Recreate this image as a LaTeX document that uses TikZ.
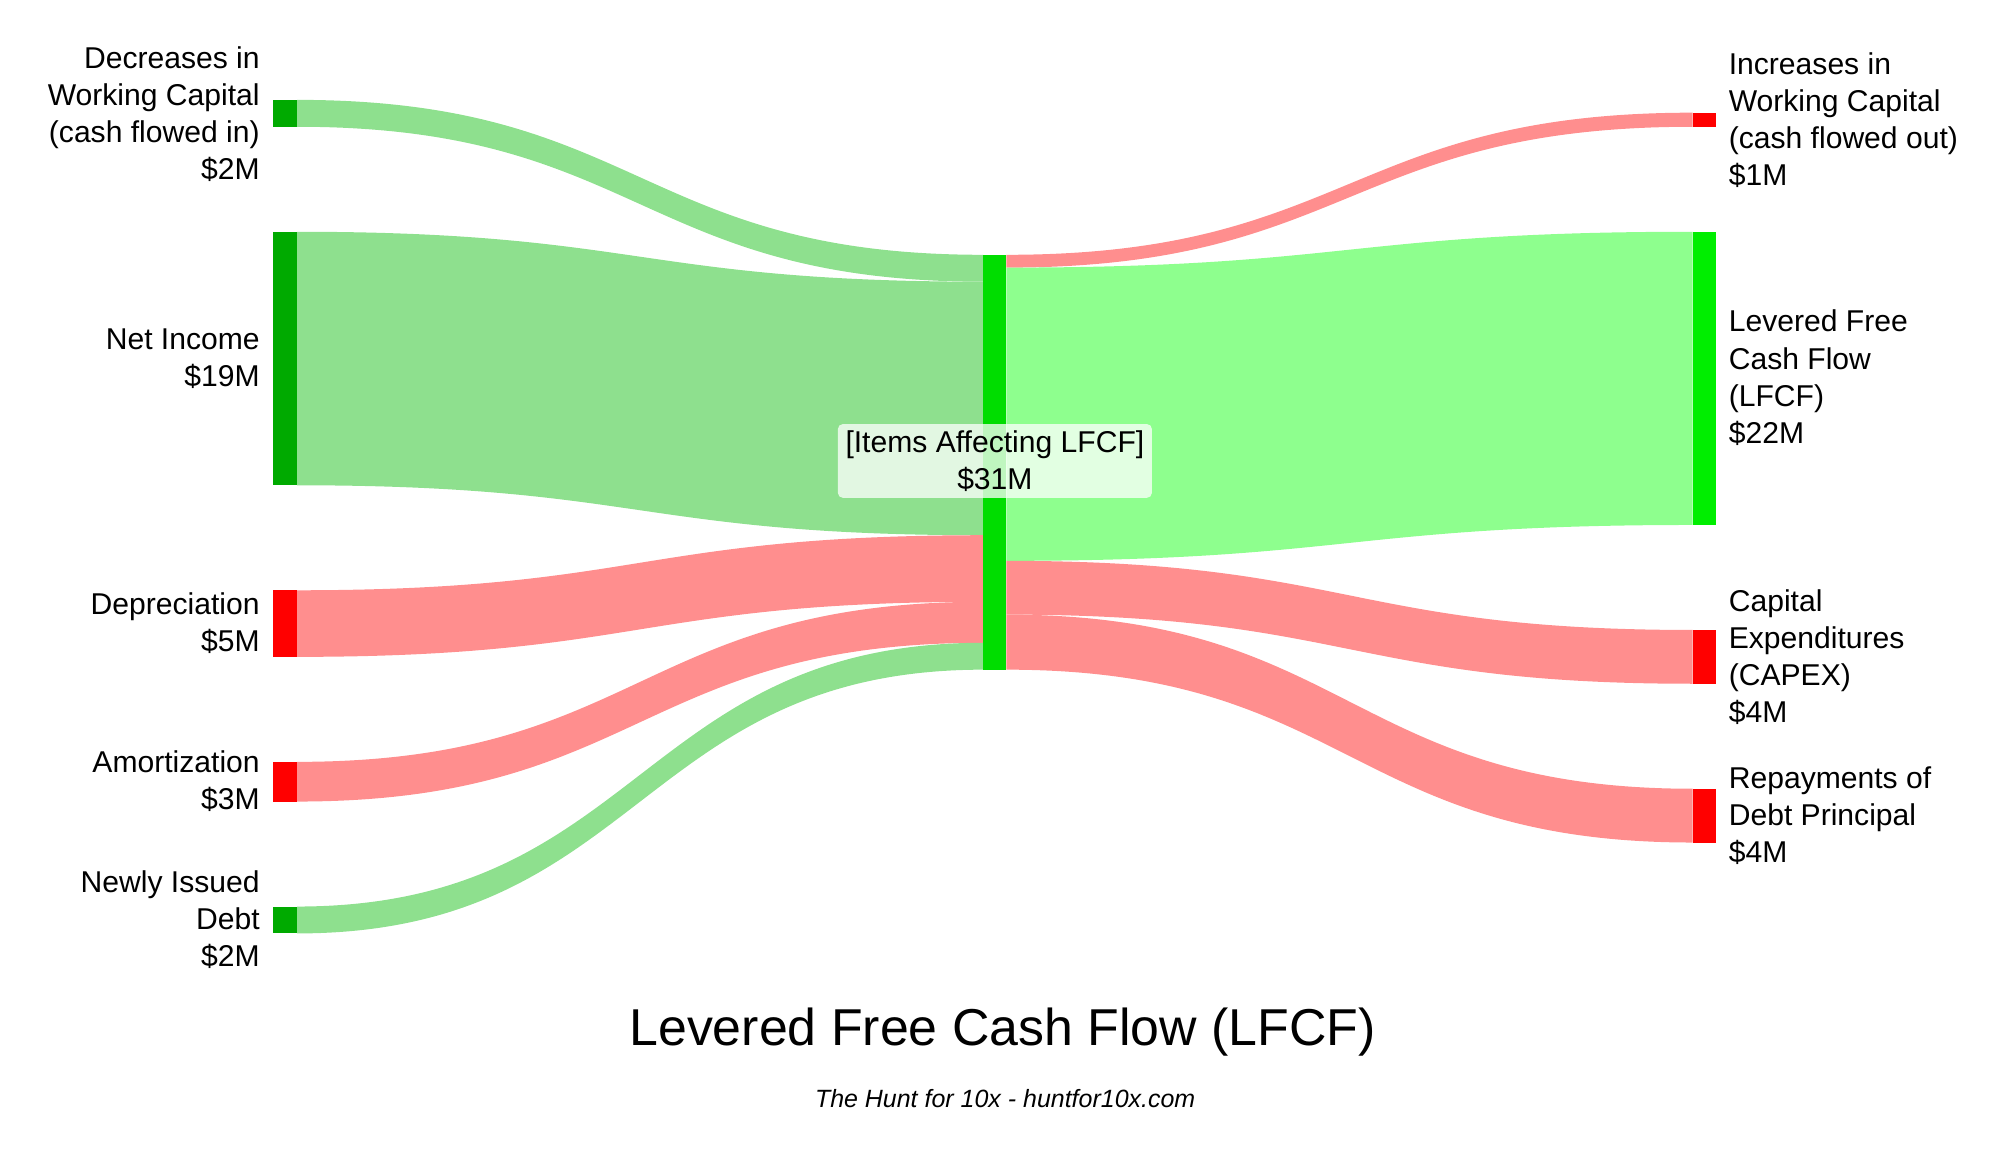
\documentclass[tikz,border=0pt]{standalone}
\usepackage{fontspec}
\setmainfont{Liberation Sans}
\begin{document}
\begin{tikzpicture}[x=1pt,y=-1pt,
  lbl/.style={font=\fontsize{23.5}{29}\selectfont,inner sep=0pt},
  llbl/.style={lbl,anchor=east,align=right},
  rlbl/.style={lbl,anchor=west,align=left}]
\definecolor{gflow}{HTML}{8EE08E}
\definecolor{lflow}{HTML}{8EFF8E}
\definecolor{rflow}{HTML}{FF8E8E}
\definecolor{gbar}{HTML}{00AA00}
\definecolor{mbar}{HTML}{00DD00}
\definecolor{lbar}{HTML}{00EE00}
\definecolor{rbar}{HTML}{FF0000}
\useasboundingbox (0,0) rectangle (1562,900);
\newcommand{\myflow}[7]{% color x1 a1 b1 x2 a2 b2
  \fill[#1] (#2,#3) .. controls ({(#2+#5)/2},#3) and ({(#2+#5)/2},#6) .. (#5,#6)
    -- (#5,#7) .. controls ({(#2+#5)/2},#7) and ({(#2+#5)/2},#4) .. (#2,#4) -- cycle;}
% flows
\myflow{gflow}{232}{78}{99}{768}{199}{220}
\myflow{gflow}{232}{181}{379}{768}{220}{418}
\myflow{rflow}{232}{461}{513}{768}{418}{470}
\myflow{rflow}{232}{595}{626}{768}{470}{502}
\myflow{gflow}{232}{708}{729}{768}{502}{523}
\myflow{rflow}{786}{199}{209}{1322}{88}{99}
\myflow{lflow}{786}{209}{438}{1322}{181}{410}
\myflow{rflow}{786}{438}{480}{1322}{492}{534}
\myflow{rflow}{786}{480}{523}{1322}{616}{658}
% bars
\fill[gbar] (213,78) rectangle (232,99);
\fill[gbar] (213,181) rectangle (232,379);
\fill[rbar] (213,461) rectangle (232,513);
\fill[rbar] (213,595) rectangle (232,626);
\fill[gbar] (213,708) rectangle (232,729);
\fill[mbar] (768,199) rectangle (786,523);
\fill[rbar] (1322,88) rectangle (1340,99);
\fill[lbar] (1322,181) rectangle (1340,410);
\fill[rbar] (1322,492) rectangle (1340,534);
\fill[rbar] (1322,616) rectangle (1340,658);
% labels
\node[llbl] (l1) at (203,89) {Decreases in\\Working Capital\\(cash flowed in)\\\$2M};
\node[llbl] (l2) at (203,280) {Net Income\\\$19M};
\node[llbl] (l3) at (203,487) {Depreciation\\\$5M};
\node[llbl] (l4) at (203,610) {Amortization\\\$3M};
\node[llbl] (l5) at (203,718) {Newly Issued\\Debt\\\$2M};
\node[rlbl] (r1) at (1350,94) {Increases in\\Working Capital\\(cash flowed out)\\\$1M};
\node[rlbl] (r2) at (1350,295) {Levered Free\\Cash Flow\\(LFCF)\\\$22M};
\node[rlbl] (r3) at (1350,513) {Capital\\Expenditures\\(CAPEX)\\\$4M};
\node[rlbl] (r4) at (1350,637) {Repayments of\\Debt Principal\\\$4M};
\node[lbl,align=center,fill=white,fill opacity=0.75,text opacity=1,rounded corners=4pt,
  inner xsep=6pt,inner ysep=5pt] (mid) at (777,360) {[Items Affecting LFCF]\\\$31M};
\node[font=\fontsize{40.5}{46}\selectfont] (title) at (783,806) {Levered Free Cash Flow (LFCF)};
\node[font=\fontsize{19.5}{22}\selectfont\itshape] (sub) at (785,858) {The Hunt for 10x - huntfor10x.com};
\end{tikzpicture}
\end{document}
